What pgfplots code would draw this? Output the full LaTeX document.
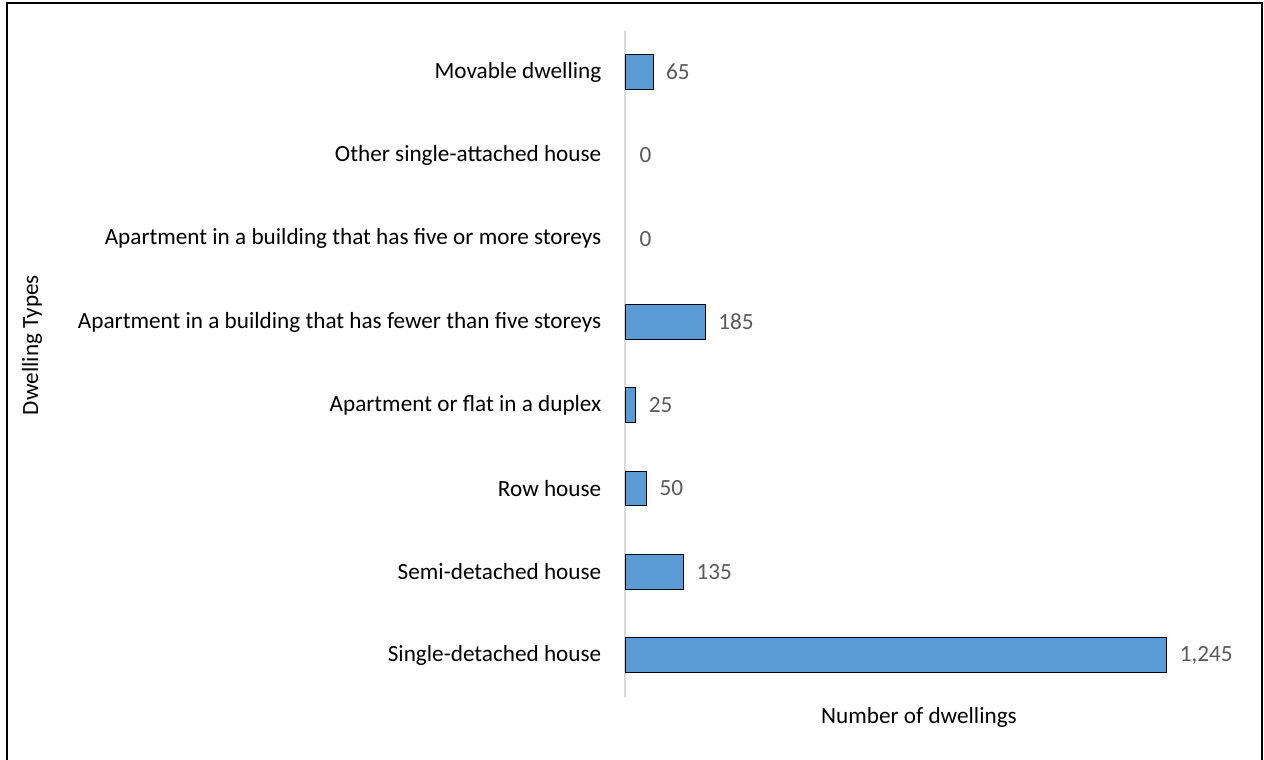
\documentclass[border=0pt]{standalone}
\usepackage{pgfplots}
\pgfplotsset{compat=1.18}
\usepackage{fontspec}
\setmainfont{Carlito}
\definecolor{barblue}{HTML}{5B9BD5}
\definecolor{axgray}{HTML}{D9D9D9}
\definecolor{lblgray}{HTML}{595959}
\newcommand{\ff}{\fontsize{17.4bp}{21bp}\selectfont}
\begin{document}
\begin{tikzpicture}[x=0.75bp,y=0.75bp]
\useasboundingbox (0,0) rectangle (1264,759);
\draw[line width=1.5bp] (7,-5) -- (7,756) -- (1262,756) -- (1262,-5);
\begin{axis}[
  at={(468.75bp,46.8bp)}, anchor=south west,
  scale only axis, width=457bp, height=499.5bp,
  xbar, bar width=26bp, bar shift=0pt,
  xmin=0, xmax=1400, ymin=-0.5, ymax=7.5,
  axis x line=none,
  axis y line*=left,
  y axis line style={axgray, line width=1.5bp, -},
  ytick={0,...,7},
  yticklabels={Single-detached house, Semi-detached house, Row house, Apartment or flat in a duplex, Apartment in a building that has fewer than five storeys, Apartment in a building that has five or more storeys, Other single-attached house, Movable dwelling},
  ytick style={draw=none},
  yticklabel style={font=\ff, text=black, xshift=-10bp},
  /pgf/number format/assume math mode=true,
  nodes near coords,
  nodes near coords style={font=\ff, text=lblgray, anchor=west, xshift=6bp},
  clip=false,
]
\addplot[fill=barblue, draw=black, line width=0.75bp] coordinates {
 (1245,0) (135,1) (50,2) (25,3) (185,4) (65,7)
};
\addplot[fill=none, draw=none, nodes near coords style={xshift=1.5bp}] coordinates {
 (0,5) (0,6)
};
\end{axis}
\node[font=\ff, rotate=90] at (32,414) {Dwelling Types};
\node[font=\ff] at (919,42) {Number of dwellings};
\end{tikzpicture}
\end{document}
